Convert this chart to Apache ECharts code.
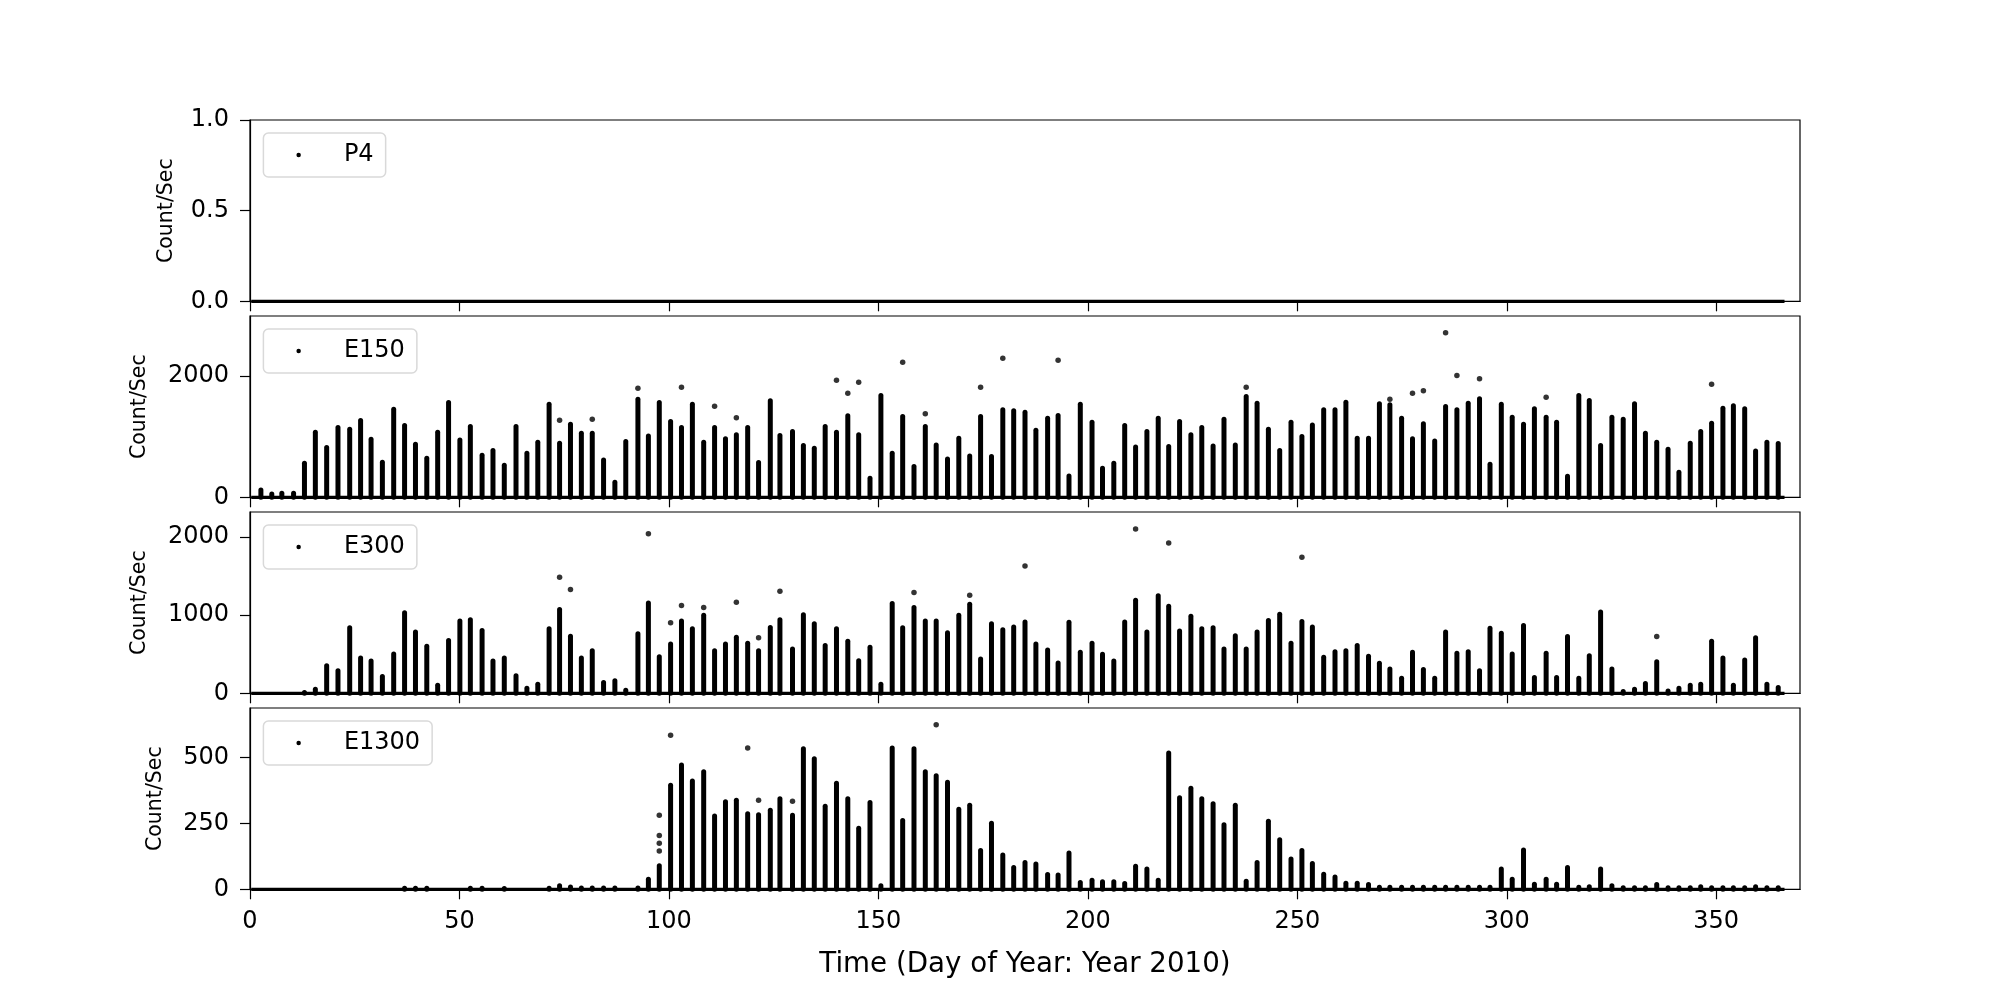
<!DOCTYPE html>
<html><head><meta charset="utf-8">
<script src="https://cdn.jsdelivr.net/npm/echarts@6/dist/echarts.min.js"></script>
<style>html,body{margin:0;padding:0;background:#fff}#c{width:2000px;height:1000px}</style>
</head><body><div id="c"></div>
<script>
// ---- data ----
const panelNames = ['P4', 'E150', 'E300', 'E1300'];
const xTicks = [0, 50, 100, 150, 200, 250, 300, 350];
const coverage = [0.3, 366.3];           // time span of the data (points at ~0 everywhere)
// time of each orbit pass (day of year)
const days = [2.6,5.2,7.6,10.4,13.0,15.6,18.3,21.0,23.8,26.4,
  28.9,31.6,34.3,36.9,39.5,42.2,44.8,47.4,50.1,52.6,
  55.4,58.0,60.7,63.5,66.1,68.7,71.4,73.9,76.5,79.1,
  81.7,84.4,87.1,89.7,92.6,95.1,97.7,100.4,103.0,105.6,
  108.3,110.9,113.5,116.1,118.8,121.4,124.2,126.5,129.5,132.1,
  134.7,137.3,140.0,142.7,145.3,148.0,150.6,153.3,155.8,158.5,
  161.2,163.8,166.5,169.2,171.8,174.4,177.0,179.7,182.3,185.0,
  187.6,190.4,192.9,195.5,198.2,201.0,203.5,206.2,208.8,211.4,
  214.1,216.8,219.3,221.9,224.6,227.2,229.9,232.5,235.2,237.8,
  240.4,243.1,245.8,248.5,251.1,253.6,256.3,259.0,261.6,264.3,
  267.0,269.6,272.1,274.9,277.5,280.1,282.8,285.4,288.1,290.8,
  293.5,296.0,298.7,301.3,304.0,306.6,309.4,311.9,314.5,317.2,
  319.7,322.4,325.1,327.8,330.5,333.1,335.8,338.5,341.1,343.8,
  346.3,348.9,351.6,354.1,356.8,359.4,362.1,364.8];
// top of the dense column of points in each pass
const e150Top = [120,55,65,65,560,1071,819,1148,1121,1264,
  956,577,1451,1181,874,643,1071,1561,945,1165,
  692,769,528,1165,725,907,1533,890,1203,1055,
  1055,615,247,918,1616,1011,1561,1247,1148,1533,
  907,1148,962,1028,1148,571,1588,1017,1083,852,
  808,1165,1071,1341,1028,313,1676,725,1330,506,
  1165,863,632,973,681,1330,670,1440,1423,1401,
  1104,1302,1346,352,1533,1236,478,560,1181,830,
  1083,1302,835,1247,1028,1148,846,1286,863,1659,
  1550,1121,769,1236,1000,1192,1440,1440,1566,973,
  973,1539,1522,1302,962,1209,929,1495,1440,1550,
  1621,544,1533,1319,1203,1456,1319,1236,346,1676,
  1594,852,1319,1286,1539,1055,907,791,412,890,
  1083,1220,1467,1506,1456,764,907,885];
const e300Top = [0,0,0,0,10,52,353,288,839,452,
  413,215,503,1032,783,602,103,675,925,942,
  804,413,452,224,65,116,826,1071,731,452,
  546,138,159,39,761,1157,469,632,925,826,
  998,546,632,718,641,546,843,942,568,1006,
  890,611,826,667,417,589,116,1148,839,1097,
  925,925,774,998,1140,439,890,813,847,912,
  632,555,387,908,525,641,499,413,912,1191,
  783,1247,1114,796,985,826,839,568,735,568,
  783,933,1011,641,918,847,460,533,546,611,
  473,383,310,194,525,305,194,783,512,533,
  288,834,770,503,869,202,512,202,727,194,
  482,1041,310,22,52,125,404,30,65,103,
  116,667,452,103,426,710,116,73];
const e1300Top = [0,0,0,0,0,0,0,0,0,0,
  0,0,0,4,4,4,0,0,0,4,
  4,0,3,0,0,0,4,13,9,5,
  5,5,5,0,5,38,89,395,472,411,
  446,278,332,338,287,283,300,344,281,533,
  495,315,402,344,232,329,13,536,261,533,
  446,431,406,304,319,147,251,130,83,102,
  96,56,54,138,26,34,29,29,22,87,
  77,34,517,347,383,344,325,245,319,31,
  102,258,188,115,147,98,57,47,23,23,
  18,8,8,8,8,8,8,8,8,8,
  8,8,77,38,149,19,38,19,83,8,
  10,77,13,6,6,6,18,6,6,6,
  10,6,6,6,6,10,6,6];
// isolated points above the columns [day, count/sec]
const e150Sparse = [[73.9,1269],[81.7,1286],[92.6,1797],[103.0,1813],[110.9,1500],[116.1,1308],
  [140.0,1929],[142.7,1714],[145.3,1896],[155.8,2225],[161.2,1374],[174.4,1813],[179.7,2291],
  [192.9,2258],[237.8,1813],[272.1,1616],[277.5,1714],[280.1,1753],[285.4,2709],[288.1,2006],
  [293.5,1951],[309.4,1648],[348.9,1863]];
const e300Sparse = [[73.9,1484],[76.5,1329],[95.1,2043],[100.4,903],[103.0,1123],[108.3,1097],
  [116.1,1166],[121.4,710],[126.5,1307],[158.5,1290],[171.8,1256],[185.0,1630],[211.4,2103],
  [219.3,1923],[251.1,1742],[335.8,727]];
const e1300Sparse = [[97.7,281],[97.7,204],[97.7,175],[97.7,145],[100.4,585],[118.8,536],
  [121.4,338],[129.5,334],[163.8,624]];
const yMax = [1, 2985, 2320, 688];
const yTickValues = [[0, 0.5, 1], [0, 2000], [0, 1000, 2000], [0, 250, 500]];

// ---- chart ----
const FONT = 'DejaVu Sans';
const tops = [null, e150Top, e300Top, e1300Top];
const sparse = [[], e150Sparse, e300Sparse, e1300Sparse];
const nameGaps = [73, 100, 100, 84];
const GT = i => 120 + 196 * i;
const GH = 181.3;

const grid = [], xAxis = [], yAxis = [], series = [], legend = [];
for (let i = 0; i < 4; i++) {
  grid.push({left: 250, width: 1550, top: GT(i), height: GH, show: true,
    borderColor: '#000', borderWidth: 1.2, backgroundColor: 'transparent'});
  const last = i === 3;
  xAxis.push({type: 'value', gridIndex: i, min: 0, max: 370,
    axisLine: {show: true, onZero: false, lineStyle: {color: '#000', width: 1.2}},
    axisTick: {show: true, length: 10, lineStyle: {color: '#000', width: 1.2}, customValues: xTicks},
    axisLabel: {show: last, customValues: xTicks, fontSize: 24, color: '#000', fontFamily: FONT, margin: 20},
    splitLine: {show: false},
    name: last ? 'Time (Day of Year: Year 2010)' : '', nameLocation: 'middle', nameGap: 62,
    nameTextStyle: {fontSize: 27.7, color: '#000', fontFamily: FONT}});
  yAxis.push({type: 'value', gridIndex: i, min: 0, max: yMax[i],
    axisLine: {show: true, lineStyle: {color: '#000', width: 1.2}},
    axisTick: {show: true, length: 10, lineStyle: {color: '#000', width: 1.2}, customValues: yTickValues[i]},
    axisLabel: {customValues: yTickValues[i], fontSize: 24, color: '#000', fontFamily: FONT, margin: 21,
      formatter: v => i === 0 ? Number(v).toFixed(1) : String(v)},
    splitLine: {show: false},
    name: 'Count/Sec', nameLocation: 'middle', nameGap: nameGaps[i],
    nameTextStyle: {fontSize: 20.5, color: '#000', fontFamily: FONT}});
  const nm = panelNames[i];
  // points at zero across the whole time span
  series.push({name: nm, type: 'line', xAxisIndex: i, yAxisIndex: i, data: [[coverage[0], 0], [coverage[1], 0]],
    symbol: 'none', clip: false, silent: true, lineStyle: {color: '#000', width: 3.2}, itemStyle: {color: '#000'}});
  if (tops[i]) {
    series.push({name: nm, type: 'custom', xAxisIndex: i, yAxisIndex: i, silent: true,
      data: days.map((d, k) => [d, tops[i][k]]),
      encode: {x: 0, y: 1},
      itemStyle: {color: '#000'},
      renderItem: (params, api) => {
        const p0 = api.coord([api.value(0), 0]);
        const p1 = api.coord([api.value(0), api.value(1)]);
        return {type: 'line', shape: {x1: p0[0], y1: p0[1], x2: p1[0], y2: p1[1]},
          style: {stroke: '#000', lineWidth: 5, lineCap: 'round'}};
      }});
  }
  series.push({name: nm, type: 'scatter', xAxisIndex: i, yAxisIndex: i, data: sparse[i],
    symbolSize: 5.5, clip: false, silent: true, itemStyle: {color: '#000'}});
  legend.push({data: [{name: nm, icon: 'circle', itemStyle: {color: '#000'}}],
    left: 263.4, top: GT(i) + 13, orient: 'horizontal', selectedMode: false,
    padding: [10, 12, 10, 33], itemWidth: 4.5, itemHeight: 4.5,
    textStyle: {fontSize: 24, color: '#000', fontFamily: FONT, padding: [0, 0, 0, 38]},
    borderColor: '#d9d9d9', borderWidth: 1.5, borderRadius: 5, backgroundColor: '#fff'});
}

const chart = echarts.init(document.getElementById('c'), null, {renderer: 'canvas'});
chart.setOption({animation: false, backgroundColor: '#fff', textStyle: {fontFamily: FONT},
  grid, xAxis, yAxis, series, legend});
</script></body></html>
